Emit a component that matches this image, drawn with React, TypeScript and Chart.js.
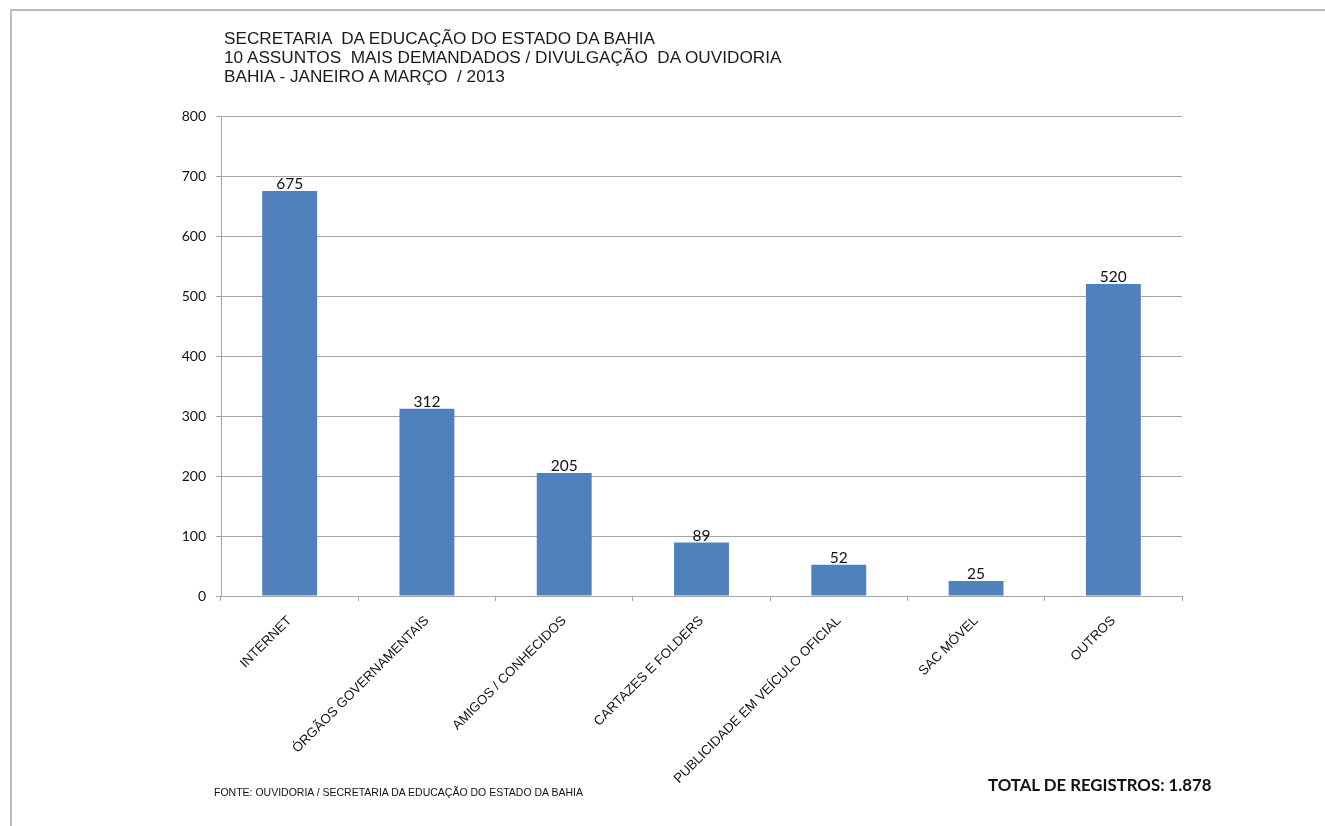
import React, { useEffect, useRef } from "react";
import { Chart, registerables } from "chart.js";

Chart.register(...registerables);

const categories = [
  "INTERNET",
  "ÓRGÃOS GOVERNAMENTAIS",
  "AMIGOS / CONHECIDOS",
  "CARTAZES E FOLDERS",
  "PUBLICIDADE EM VEÍCULO OFICIAL",
  "SAC MÓVEL",
  "OUTROS",
];
const values = [675, 312, 205, 89, 52, 25, 520];
const titleLines = [
  "SECRETARIA  DA EDUCAÇÃO DO ESTADO DA BAHIA",
  "10 ASSUNTOS  MAIS DEMANDADOS / DIVULGAÇÃO  DA OUVIDORIA",
  "BAHIA - JANEIRO A MARÇO  / 2013",
];
const sourceText = "FONTE: OUVIDORIA / SECRETARIA DA EDUCAÇÃO DO ESTADO DA BAHIA";
const totalText = "TOTAL DE REGISTROS: 1.878";
const yMin = 0;
const yMax = 800;
const yStep = 100;

const BAR = "#4F81BD";
const GRID = "#a6a6a6";

const valueLabels = {
  id: "valueLabels",
  afterDatasetsDraw(chart: any) {
    const ctx = chart.ctx;
    const meta = chart.getDatasetMeta(0);
    ctx.save();
    ctx.font = "15.5px Lato, 'Open Sans', sans-serif";
    ctx.fillStyle = "#111";
    ctx.textAlign = "center";
    ctx.textBaseline = "alphabetic";
    meta.data.forEach((bar: any, i: number) => {
      ctx.fillText(String(values[i]), bar.x, bar.y - 2);
    });
    ctx.restore();
  },
};

export default function App() {
  const ref = useRef<HTMLCanvasElement>(null);
  useEffect(() => {
    if (!ref.current) return;
    const chart = new Chart(ref.current, {
      type: "bar",
      data: {
        labels: categories,
        datasets: [
          {
            data: values,
            backgroundColor: BAR,
            borderWidth: 0,
            barPercentage: 0.8,
            categoryPercentage: 0.5,
          },
        ],
      },
      options: {
        responsive: false,
        animation: false,
        events: [],
        layout: { padding: { left: 0, right: 143, top: 116, bottom: 0 } },
        plugins: {
          legend: { display: false },
          tooltip: { enabled: false },
          title: { display: false },
        },
        scales: {
          x: {
            offset: true,
            grid: {
              offset: true,
              drawOnChartArea: false,
              drawTicks: true,
              tickLength: 5,
              color: GRID,
            },
            border: { color: GRID, width: 1 },
            ticks: {
              autoSkip: false,
              maxRotation: 45,
              minRotation: 45,
              padding: 12,
              color: "#111",
              font: { family: "'Liberation Sans', Arial, sans-serif", size: 13.3 },
            },
            afterFit(scale: any) {
              scale.height = 826 - 596;
            },
          },
          y: {
            min: yMin,
            max: yMax,
            grid: { color: GRID, tickLength: 5, drawTicks: true },
            border: { color: GRID, width: 1 },
            ticks: {
              stepSize: yStep,
              padding: 10,
              color: "#111",
              font: { family: "Lato, 'Open Sans', sans-serif", size: 14 },
            },
            afterFit(scale: any) {
              scale.width = 221;
            },
          },
        },
      },
      plugins: [valueLabels],
    });
    return () => chart.destroy();
  }, []);

  return (
    <div
      style={{
        position: "absolute",
        left: 0,
        top: 0,
        width: 1325,
        height: 826,
        overflow: "hidden",
        background: "#fff",
      }}
    >
      <div
        style={{
          position: "absolute",
          left: 10,
          top: 9,
          width: 1400,
          height: 900,
          borderLeft: "2px solid #bcbcbc",
          borderTop: "2px solid #bcbcbc",
        }}
      />
      <canvas
        ref={ref}
        width={1325}
        height={826}
        style={{ position: "absolute", left: 0, top: 0, width: 1325, height: 826 }}
      />
      <div
        style={{
          position: "absolute",
          left: 224,
          top: 29,
          fontFamily: "'Liberation Sans', Arial, sans-serif",
          fontSize: 17.2,
          lineHeight: "19px",
          color: "#1a1a1a",
          whiteSpace: "pre",
        }}
      >
        {titleLines.map((l, i) => (
          <div key={i}>{l}</div>
        ))}
      </div>
      <div
        style={{
          position: "absolute",
          left: 214,
          top: 786,
          fontFamily: "'Liberation Sans', Arial, sans-serif",
          fontSize: 10.5,
          lineHeight: "12px",
          color: "#111",
          whiteSpace: "pre",
        }}
      >
        {sourceText}
      </div>
      <div
        style={{
          position: "absolute",
          left: 988,
          top: 775,
          fontFamily: "Lato, 'Open Sans', sans-serif",
          fontWeight: 700,
          fontSize: 16.8,
          lineHeight: "20px",
          color: "#111",
          whiteSpace: "pre",
        }}
      >
        {totalText}
      </div>
    </div>
  );
}
